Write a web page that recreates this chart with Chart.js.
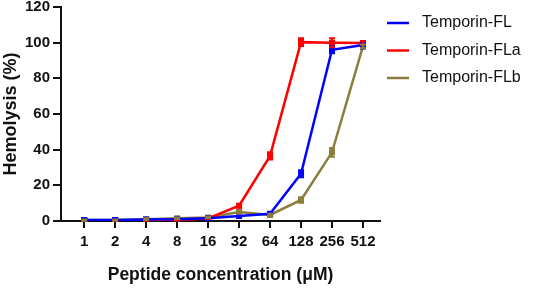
<!DOCTYPE html>
<html><head><meta charset="utf-8">
<script src="https://cdn.jsdelivr.net/npm/chart.js@4/dist/chart.umd.min.js"></script>
<style>html,body{margin:0;padding:0;background:#fff}#wrap{width:533px;height:288px}</style>
</head><body><div id="wrap"><canvas id="c" width="533" height="288"></canvas></div>
<script>
const concentrations = [1, 2, 4, 8, 16, 32, 64, 128, 256, 512];
const seriesNames = ["Temporin-FL", "Temporin-FLa", "Temporin-FLb"];
const flValues  = [0.5, 0.5, 0.8, 1.0, 1.5, 2.8, 4.0, 26.5, 96.0, 98.7];
const flErr     = [0.3, 0.3, 0.3, 0.3, 0.4, 0.6, 0.6, 2.0, 2.0, 2.0];
const flaValues = [0.3, 0.3, 0.3, 0.5, 1.5, 8.6, 36.5, 100.3, 100.0, 99.8];
const flaErr    = [0.2, 0.2, 0.2, 0.3, 0.4, 1.0, 2.0, 2.2, 2.5, 1.0];
const flbValues = [0.5, 0.5, 1.0, 1.5, 2.0, 5.0, 3.4, 11.8, 38.5, 98.0];
const flbErr    = [0.3, 0.3, 0.5, 0.5, 0.5, 1.0, 0.6, 1.5, 2.5, 1.0];
const yTicks = [0, 20, 40, 60, 80, 100, 120];
const colors = ["#0000FF", "#FF0000", "#8C7D3C"];

const idx = concentrations.map(c => Math.log2(c));
const mk = (vals) => vals.map((v, i) => ({x: idx[i], y: v}));
const allVals = [flValues, flaValues, flbValues];
const allErr = [flErr, flaErr, flbErr];
const FONT = '"Liberation Sans", Arial, sans-serif';

const errorBars = {
  id: 'errorBars',
  afterDatasetsDraw(chart) {
    const {ctx, scales: {x, y}} = chart;
    ctx.save();
    allVals.forEach((vals, s) => {
      ctx.strokeStyle = colors[s];
      ctx.lineWidth = 2;
      vals.forEach((v, i) => {
        const px = x.getPixelForValue(idx[i]);
        const top = y.getPixelForValue(v + allErr[s][i]);
        const bot = y.getPixelForValue(v - allErr[s][i]);
        ctx.beginPath();
        ctx.moveTo(px, top); ctx.lineTo(px, bot);
        ctx.moveTo(px - 3, top); ctx.lineTo(px + 3, top);
        ctx.moveTo(px - 3, bot); ctx.lineTo(px + 3, bot);
        ctx.stroke();
      });
    });
    ctx.restore();
  }
};

const legendPlugin = {
  id: 'customLegend',
  afterDraw(chart) {
    const ctx = chart.ctx;
    ctx.save();
    ctx.font = '16px ' + FONT;
    ctx.textBaseline = 'middle';
    seriesNames.forEach((n, i) => {
      const yy = 23 + i * 27.5;
      ctx.strokeStyle = colors[i];
      ctx.lineWidth = 2.5;
      ctx.beginPath(); ctx.moveTo(387, yy); ctx.lineTo(409, yy); ctx.stroke();
      ctx.fillStyle = '#111';
      ctx.fillText(n, 422, yy);
    });
    ctx.restore();
  }
};

new Chart(document.getElementById('c'), {
  type: 'line',
  data: {
    datasets: seriesNames.map((n, s) => ({
      label: n,
      data: mk(allVals[s]),
      borderColor: colors[s],
      backgroundColor: colors[s],
      borderWidth: 2.5,
      pointStyle: 'rect',
      pointRadius: 2.5,
      tension: 0
    }))
  },
  options: {
    responsive: false,
    animation: false,
    layout: {padding: {top: 7, right: 153, left: 0, bottom: 0}},
    plugins: {legend: {display: false}, tooltip: {enabled: false}},
    scales: {
      x: {
        type: 'linear',
        min: -0.75, max: 9.55,
        afterBuildTicks(axis) { axis.ticks = idx.map(v => ({value: v})); },
        afterFit(axis) { axis.height = 67; axis.paddingLeft = 0; axis.paddingRight = 0; },
        ticks: {
          callback: (v) => { const i = idx.indexOf(v); return i >= 0 ? String(concentrations[i]) : ''; },
          color: '#111', font: {family: FONT, size: 15, weight: 'bold'}, padding: 5, maxRotation: 0, autoSkip: false
        },
        grid: {display: true, drawOnChartArea: false, drawTicks: true, tickLength: 7, color: '#111', lineWidth: 2},
        border: {display: true, color: '#111', width: 2},
        title: {display: true, text: 'Peptide concentration (\u03bcM)', color: '#111', font: {family: FONT, size: 17.5, weight: 'bold'}, padding: {top: 0, bottom: 2}}
      },
      y: {
        min: 0, max: 120,
        afterBuildTicks(axis) { axis.ticks = yTicks.map(v => ({value: v})); },
        afterFit(axis) { axis.width = 61; axis.paddingTop = 0; axis.paddingBottom = 0; },
        ticks: {color: '#111', font: {family: FONT, size: 15, weight: 'bold'}, padding: 3},
        grid: {display: true, drawOnChartArea: false, drawTicks: true, tickLength: 8, color: '#111', lineWidth: 2},
        border: {display: true, color: '#111', width: 2},
        title: {display: true, text: 'Hemolysis (%)', color: '#111', font: {family: FONT, size: 18, weight: 'bold'}, padding: {top: 0, bottom: 0}}
      }
    }
  },
  plugins: [errorBars, legendPlugin]
});
</script></body></html>
